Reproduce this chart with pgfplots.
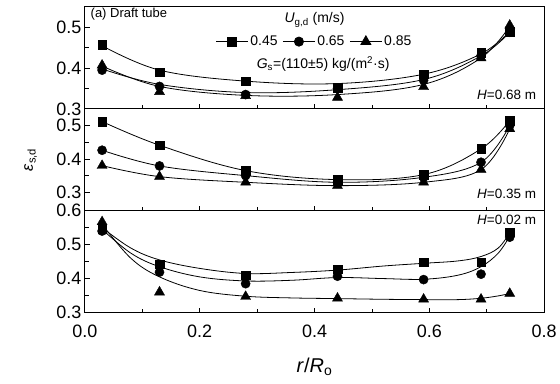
\documentclass[border=0pt]{standalone}
\usepackage{fontspec}
\setmainfont{Liberation Sans}
\usepackage{pgfplots}
\pgfplotsset{compat=1.18}
\usepgfplotslibrary{groupplots}

% ---- H = 0.68 m (top) ----
\pgfplotstableread{
x    sq     ci     tr
0.03 0.457  0.395  0.407
0.13 0.390  0.355  0.342
0.28 0.368  0.335  0.332
0.44 0.352  0.350  0.328
0.59 0.385  0.370  0.354
0.69 0.438  0.430  0.425
0.74 0.490  0.488  0.505
}\topdata
\pgfplotstableread{
x    sq     ci     tr
0.03 0.455  0.398  0.405
0.13 0.395  0.360  0.355
0.28 0.368  0.340  0.333
0.44 0.362  0.347  0.335
0.59 0.385  0.372  0.360
0.69 0.435  0.430  0.425
0.74 0.490  0.488  0.503
}\topfit
% ---- H = 0.35 m (middle) ----
\pgfplotstableread{
x    sq     ci     tr
0.03 0.512  0.426  0.380
0.13 0.441  0.379  0.347
0.28 0.365  0.350  0.330
0.44 0.338  0.330  0.320
0.59 0.353  0.345  0.330
0.69 0.430  0.390  0.368
0.74 0.515  0.500  0.490
}\middata
% ---- H = 0.02 m (bottom) ----
\pgfplotstableread{
x    sq     ci     tr
0.03 0.545  0.540  0.567
0.13 0.442  0.419  0.360
0.28 0.410  0.385  0.347
0.44 0.428  0.407  0.342
0.59 0.448  0.397  0.339
0.69 0.448  0.413  0.339
0.74 0.537  0.522  0.356
}\botdata
\pgfplotstableread{
x    sq     ci     tr
0.03 0.550  0.545  0.560
0.08 0.490  0.475  0.460
0.13 0.455  0.435  0.405
0.20 0.430  0.405  0.365
0.28 0.415  0.393  0.348
0.36 0.418  0.395  0.343
0.44 0.425  0.403  0.341
0.52 0.437  0.400  0.339
0.59 0.445  0.398  0.338
0.65 0.452  0.410  0.338
0.69 0.465  0.435  0.342
0.72 0.490  0.475  0.349
0.74 0.535  0.525  0.356
}\botfit

\begin{document}
\begin{tikzpicture}
\begin{groupplot}[
  group style={group size=1 by 3, vertical sep=0pt, xticklabels at=edge bottom},
  scale only axis, width=460pt, height=102pt,
  xmin=0, xmax=0.8,
  xtick={0,0.2,0.4,0.6,0.8}, minor xtick={0.1,0.3,0.5,0.7},
  tick align=inside, xtick pos=left, ytick pos=left,
  major tick length=5pt, minor tick length=4pt,
  every tick/.style={black, line width=0.8pt},
  axis line style={line width=1pt},
  ticklabel style={font=\fontsize{18}{20}\selectfont},
  /pgf/number format/assume math mode=true,
  xticklabel style={yshift=-9pt, /pgf/number format/fixed, /pgf/number format/fixed zerofill, /pgf/number format/precision=1},
  yticklabel style={/pgf/number format/fixed, /pgf/number format/fixed zerofill, /pgf/number format/precision=1},
  sq/.style={only marks, mark=square*, mark size=4.3pt, black, forget plot},
  ci/.style={only marks, mark=*, mark size=4.6pt, black, forget plot},
  tr/.style={only marks, mark=triangle*, mark size=5.8pt, black, forget plot},
  fit/.style={smooth, tension=0.6, black, line width=0.8pt, no marks, forget plot},
]
% ---------------- top ----------------
\nextgroupplot[ymin=0.3, ymax=0.55, ytick={0.3,0.4,0.5}, minor ytick={0.35,0.45},
  legend columns=3,
  legend style={draw=none, fill=none, at={(axis cs:0.4,0.465)}, anchor=center,
    font=\fontsize{14}{16}\selectfont,
    /tikz/every even column/.append style={column sep=3pt}},
  legend image code/.code={\draw[mark repeat=2,mark phase=2,#1] plot coordinates {(0pt,0pt)(16pt,0pt)(32pt,0pt)};}]
\addlegendimage{black, line width=0.8pt, mark=square*, mark size=4.3pt}
\addlegendimage{black, line width=0.8pt, mark=*, mark size=4.6pt}
\addlegendimage{black, line width=0.8pt, mark=triangle*, mark size=5.8pt}
\legend{0.45,0.65,0.85}
\addplot[fit] table[x=x,y=sq] {\topfit};
\addplot[fit] table[x=x,y=ci] {\topfit};
\addplot[fit] table[x=x,y=tr] {\topfit};
\addplot[sq] table[x=x,y=sq] {\topdata};
\addplot[ci] table[x=x,y=ci] {\topdata};
\addplot[tr] table[x=x,y=tr] {\topdata};
\node[anchor=west, font=\fontsize{13}{15}\selectfont] at (axis cs:0.004,0.532) {(a) Draft tube};
\node[anchor=center, font=\fontsize{14}{16}\selectfont] at (axis cs:0.4,0.518) {\textit{U}\textsubscript{g,d} (m/s)};
\node[anchor=center, font=\fontsize{14}{16}\selectfont] at (axis cs:0.415,0.41) {\textit{G}\textsubscript{s}=(110±5) kg/(m\textsuperscript{2}·s)};
\node[anchor=east, font=\fontsize{13.5}{15}\selectfont] at (axis cs:0.792,0.335) {\textit{H}=0.68 m};
% ---------------- middle ----------------
\nextgroupplot[ymin=0.245, ymax=0.55, ytick={0.3,0.4,0.5}, minor ytick={0.35,0.45},
  ylabel={\textit{ε}\textsubscript{s,d}},
  ylabel style={at={(axis description cs:-0.118,0.5)}, anchor=center, font=\fontsize{16}{18}\selectfont}]
\addplot[fit] table[x=x,y=sq] {\middata};
\addplot[fit] table[x=x,y=ci] {\middata};
\addplot[fit] table[x=x,y=tr] {\middata};
\addplot[sq] table[x=x,y=sq] {\middata};
\addplot[ci] table[x=x,y=ci] {\middata};
\addplot[tr] table[x=x,y=tr] {\middata};
\node[anchor=east, font=\fontsize{13.5}{15}\selectfont] at (axis cs:0.792,0.296) {\textit{H}=0.35 m};
% ---------------- bottom ----------------
\nextgroupplot[ymin=0.3, ymax=0.6, ytick={0.3,0.4,0.5,0.6}, minor ytick={0.35,0.45,0.55},
  xlabel={\textit{r}/\textit{R}\textsubscript{o}},
  xlabel style={at={(axis description cs:0.5,0)}, yshift=-54pt, anchor=center, font=\fontsize{20}{22}\selectfont}]
\addplot[fit] table[x=x,y=sq] {\botfit};
\addplot[fit] table[x=x,y=ci] {\botfit};
\addplot[fit] table[x=x,y=tr] {\botfit};
\addplot[sq] table[x=x,y=sq] {\botdata};
\addplot[ci] table[x=x,y=ci] {\botdata};
\addplot[tr] table[x=x,y=tr] {\botdata};
\node[anchor=east, font=\fontsize{13.5}{15}\selectfont] at (axis cs:0.792,0.572) {\textit{H}=0.02 m};
\end{groupplot}
\path (group c1r3.south west) ++(-85pt,-71pt) rectangle ($(group c1r1.north east)+(15pt,7pt)$);
\end{tikzpicture}
\end{document}
